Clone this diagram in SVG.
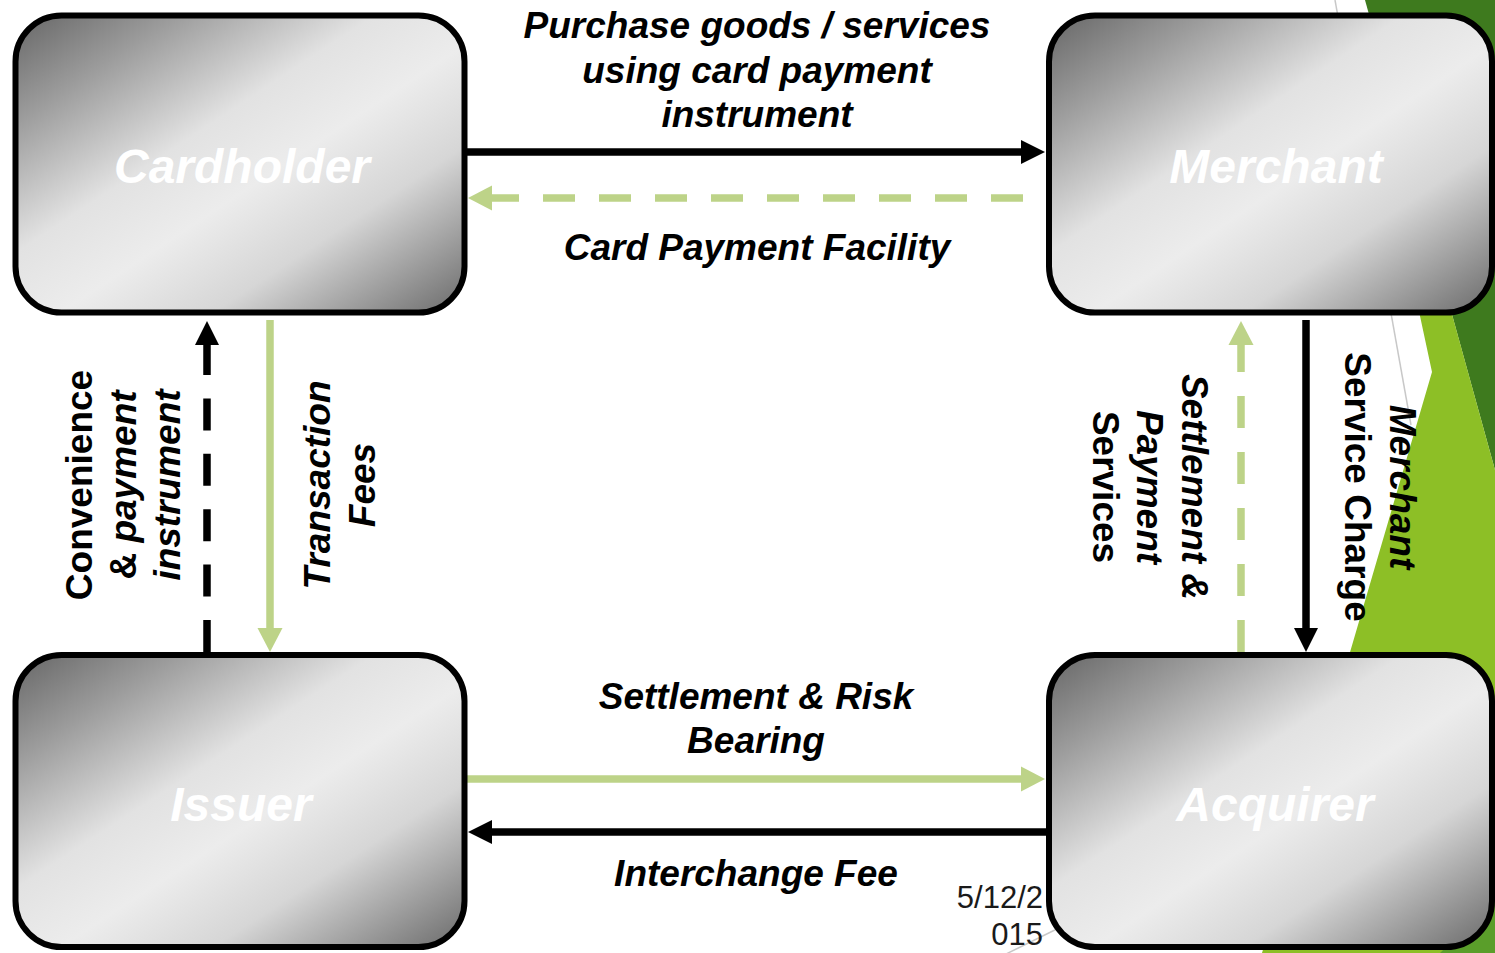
<svg xmlns="http://www.w3.org/2000/svg" width="1495" height="953" viewBox="0 0 1495 953">
<defs>
<linearGradient id="boxfill" x1="0" y1="0" x2="1" y2="1">
<stop offset="0" stop-color="#666666"/>
<stop offset="0.18" stop-color="#9c9c9c"/>
<stop offset="0.4" stop-color="#e2e2e2"/>
<stop offset="0.55" stop-color="#ececec"/>
<stop offset="0.72" stop-color="#d6d6d6"/>
<stop offset="1" stop-color="#6a6a6a"/>
</linearGradient>
<marker id="ak" markerUnits="userSpaceOnUse" markerWidth="25" markerHeight="26" viewBox="0 -13 25 26" refX="1" refY="0" orient="auto">
<path d="M0,-12 L24,0 L0,12 Z" fill="#000"/>
</marker>
<marker id="ag" markerUnits="userSpaceOnUse" markerWidth="25" markerHeight="27" viewBox="0 -13.5 25 27" refX="1" refY="0" orient="auto">
<path d="M0,-12.5 L24,0 L0,12.5 Z" fill="#bdd388"/>
</marker>
</defs>
<style>
.box{fill:url(#boxfill);stroke:#000;stroke-width:6}
.lbl{font-family:"Liberation Sans",Arial,sans-serif;font-weight:bold;font-style:italic;font-size:48px;fill:#fff;text-anchor:middle}
.t{font-family:"Liberation Sans",Arial,sans-serif;font-weight:bold;font-size:37px;fill:#000;text-anchor:middle}
.i{font-style:italic}
.k{stroke:#000;stroke-width:7.5;fill:none}
.g{stroke:#bdd388;stroke-width:7.5;fill:none}
.dk{stroke-dasharray:32 23.4}
.dg{stroke-dasharray:32 24}
.date{font-family:"Liberation Sans",Arial,sans-serif;font-size:31px;fill:#1a1a1a;text-anchor:end}
</style>
<rect width="1495" height="953" fill="#fff"/>
<g id="decoration">
<polygon points="1365,0 1495,0 1495,470" fill="#3e7a1e"/>
<polygon points="1408,260 1432,372 1262,953 1495,953 1495,470 1437,260" fill="#8dbf26"/>
<polygon points="1440,953 1495,953 1495,900" fill="#5a9e2a"/>
<line x1="1335" y1="0" x2="1411" y2="425" stroke="#c8c8c8" stroke-width="1.5"/>
<line x1="1000" y1="957" x2="1065" y2="925" stroke="#c8c8c8" stroke-width="1.5"/>
</g>
<g id="connectors">
<path class="k" d="M467,152 H1022" marker-end="url(#ak)"/>
<path class="g dg" d="M1023,198 H491" marker-end="url(#ag)"/>
<path class="k dk" d="M207,652 V344" marker-end="url(#ak)"/>
<path class="g" d="M270,320 V629" marker-end="url(#ag)"/>
<path class="g dg" d="M1241,652 V344" marker-end="url(#ag)"/>
<path class="k" d="M1306,320 V629" marker-end="url(#ak)"/>
<path class="g" d="M467,779 H1022" marker-end="url(#ag)"/>
<path class="k" d="M1046,832 H491" marker-end="url(#ak)"/>
</g>
<g id="cardholder">
<rect class="box" x="15.5" y="15.5" width="449" height="297" rx="46"/>
<text class="lbl" x="242" y="183">Cardholder</text>
</g>
<g id="merchant">
<rect class="box" x="1049" y="15.5" width="443" height="297" rx="46"/>
<text class="lbl" x="1276" y="183">Merchant</text>
</g>
<g id="issuer">
<rect class="box" x="15.5" y="655" width="449" height="292" rx="46"/>
<text class="lbl" x="241" y="821">Issuer</text>
</g>
<g id="acquirer">
<rect class="box" x="1049" y="655" width="443" height="292" rx="46"/>
<text class="lbl" x="1275" y="821">Acquirer</text>
</g>
<g id="connector-labels">
<text class="t i" x="757" y="38">Purchase goods / services</text>
<text class="t i" x="757" y="82.5">using card payment</text>
<text class="t i" x="757" y="127">instrument</text>
<text class="t i" x="757" y="260">Card Payment Facility</text>
<text class="t i" x="756" y="709">Settlement &amp; Risk</text>
<text class="t i" x="756" y="753">Bearing</text>
<text class="t i" x="756" y="886">Interchange Fee</text>
<g transform="translate(0,485) rotate(-90)">
<text class="t" x="0" y="92">Convenience</text>
<text class="t" x="0" y="136">&amp; <tspan class="i">payment</tspan></text>
<text class="t i" x="0" y="180">instrument</text>
</g>
<g transform="translate(0,485) rotate(-90)">
<text class="t i" x="0" y="330">Transaction</text>
<text class="t i" x="0" y="375">Fees</text>
</g>
<g transform="translate(0,487) rotate(90)">
<text class="t i" x="0" y="-1182">Settlement &amp;</text>
<text class="t i" x="0" y="-1137">Payment</text>
<text class="t" x="0" y="-1093">Services</text>
</g>
<g transform="translate(0,487) rotate(90)">
<text class="t i" x="0" y="-1390">Merchant</text>
<text class="t" x="0" y="-1345">Service Charge</text>
</g>
</g>
<text class="date" x="1043" y="908">5/12/2</text>
<text class="date" x="1043" y="945">015</text>
</svg>
